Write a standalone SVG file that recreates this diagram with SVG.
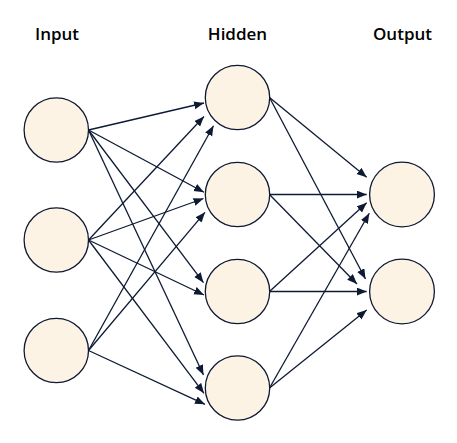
<svg xmlns="http://www.w3.org/2000/svg" width="457" height="443" viewBox="0 0 457 443">
<defs>
<marker id="arr" markerUnits="userSpaceOnUse" markerWidth="11" markerHeight="9" refX="10" refY="4" orient="auto">
<path d="M0,0 L10,4 L0,8 z" fill="#0d1a33"/>
</marker>
<style>
.node{fill:#fdf3e5;stroke:#0d1a33;stroke-width:1.3}
.edge{stroke:#0d1a33;stroke-width:1.3;fill:none;marker-end:url(#arr)}
.lbl{font-family:"Open Sans","Noto Sans",sans-serif;font-weight:600;font-size:17px;fill:#000;text-anchor:middle}
</style>
</defs>
<rect width="457" height="443" fill="#ffffff"/>
<g id="labels">
<text class="lbl" x="57" y="40">Input</text>
<text class="lbl" x="237.5" y="40">Hidden</text>
<text class="lbl" x="402.5" y="40">Output</text>
</g>
<g id="connectors">
<line class="edge" x1="88.5" y1="130" x2="204" y2="103"/>
<line class="edge" x1="88.5" y1="240" x2="204" y2="116.5"/>
<line class="edge" x1="88.5" y1="350.5" x2="213.5" y2="125.7"/>
<line class="edge" x1="88.5" y1="130" x2="204" y2="192.3"/>
<line class="edge" x1="88.5" y1="240" x2="203.5" y2="198.5"/>
<line class="edge" x1="88.5" y1="350.5" x2="205" y2="212.3"/>
<line class="edge" x1="88.5" y1="130" x2="203.5" y2="282.7"/>
<line class="edge" x1="88.5" y1="240" x2="204" y2="295"/>
<line class="edge" x1="88.5" y1="130" x2="203.5" y2="375"/>
<line class="edge" x1="88.5" y1="240" x2="204" y2="393.3"/>
<line class="edge" x1="88.5" y1="350.5" x2="205" y2="404.3"/>
<line class="edge" x1="269.5" y1="97.5" x2="366.7" y2="177.3"/>
<line class="edge" x1="269.5" y1="97.5" x2="365.5" y2="279"/>
<line class="edge" x1="269.5" y1="194.5" x2="366.7" y2="194.5"/>
<line class="edge" x1="269.5" y1="194.5" x2="357" y2="284"/>
<line class="edge" x1="269.5" y1="291.5" x2="366.7" y2="202.7"/>
<line class="edge" x1="269.5" y1="291.5" x2="366.7" y2="291.5"/>
<line class="edge" x1="269.5" y1="388" x2="369.3" y2="213.3"/>
<line class="edge" x1="269.5" y1="388" x2="366.7" y2="310"/>
</g>
<g id="input1"><circle class="node" cx="56.3" cy="130" r="32.2"/></g>
<g id="input2"><circle class="node" cx="56.3" cy="240" r="32.2"/></g>
<g id="input3"><circle class="node" cx="56.3" cy="350.5" r="32.2"/></g>
<g id="hidden1"><circle class="node" cx="237.5" cy="97.5" r="32.2"/></g>
<g id="hidden2"><circle class="node" cx="237.5" cy="194.5" r="32.2"/></g>
<g id="hidden3"><circle class="node" cx="237.5" cy="291.5" r="32.2"/></g>
<g id="hidden4"><circle class="node" cx="237.5" cy="388" r="32.2"/></g>
<g id="output1"><circle class="node" cx="402" cy="194.5" r="32.4"/></g>
<g id="output2"><circle class="node" cx="402" cy="291.5" r="32.4"/></g>
</svg>
